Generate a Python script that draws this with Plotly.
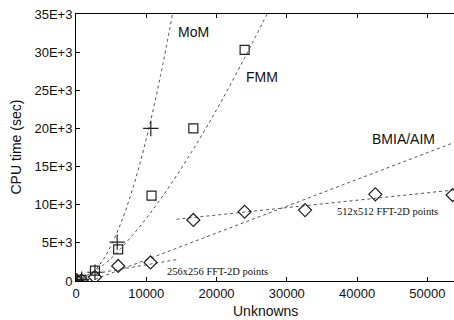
import plotly.graph_objects as go

# Measured points
mom_n = [120, 800, 2700, 5860, 10650]
mom_t = [50, 220, 1150, 5100, 20000]

fmm_n = [120, 800, 2700, 6000, 10750, 16700, 24000]
fmm_t = [30, 150, 1350, 4150, 11200, 20000, 30300]

aim_n = [120, 800, 2700, 6000, 10600, 16700, 24000, 32600, 42600, 53600]
aim_t = [20, 80, 520, 1970, 2430, 8000, 9080, 9300, 11360, 11270]

# Trend curves
mom_fit_n = [0, 2000, 4000, 6000, 8000, 10000, 12000, 13740]
mom_fit_t = [0, 750, 3000, 6700, 11900, 18600, 26800, 35000]

fmm_fit_n = [0, 4000, 8000, 12000, 16000, 20000, 24000, 27190]
fmm_fit_t = [0, 2170, 5950, 10700, 16240, 22440, 29260, 35000]

aim_fit_n = [2700, 53800]
aim_fit_t = [220, 18150]

fft256_fit_n = [2900, 14500]
fft256_fit_t = [1000, 2830]

fft512_fit_n = [14300, 53800]
fft512_fit_t = [8090, 11930]

y_ticks = [0, 5000, 10000, 15000, 20000, 25000, 30000, 35000]
y_tick_text = ["0", "5E+3", "10E+3", "15E+3", "20E+3", "25E+3", "30E+3", "35E+3"]
x_ticks = [0, 10000, 20000, 30000, 40000, 50000]
x_tick_text = ["0", "10000", "20000", "30000", "40000", "50000"]

line_style = dict(color="#555555", width=1, dash="dot")
mk_col = "#222222"

fig = go.Figure()
for xs, ys, shp in [(mom_fit_n, mom_fit_t, "spline"), (fmm_fit_n, fmm_fit_t, "spline"),
                    (aim_fit_n, aim_fit_t, "linear"), (fft256_fit_n, fft256_fit_t, "linear"),
                    (fft512_fit_n, fft512_fit_t, "linear")]:
    fig.add_trace(go.Scatter(x=xs, y=ys, mode="lines", line=dict(shape=shp, **line_style),
                             showlegend=False, hoverinfo="skip"))

fig.add_trace(go.Scatter(x=mom_n, y=mom_t, mode="markers", showlegend=False,
                         marker=dict(symbol="cross-thin-open", size=11, color=mk_col,
                                     line=dict(color=mk_col, width=1.2))))
fig.add_trace(go.Scatter(x=fmm_n, y=fmm_t, mode="markers", showlegend=False,
                         marker=dict(symbol="square-open", size=9, color=mk_col,
                                     line=dict(color=mk_col, width=1.2))))
fig.add_trace(go.Scatter(x=aim_n, y=aim_t, mode="markers", showlegend=False,
                         marker=dict(symbol="diamond-open", size=10, color=mk_col,
                                     line=dict(color=mk_col, width=1.2))))

sans = dict(family="Liberation Sans, Arial, sans-serif", size=14, color="#111111")
serif = dict(family="Liberation Serif, Times New Roman, serif", size=10.5, color="#111111")

annots = [
    ("MoM", 16700, 32650, sans),
    ("FMM", 26500, 26800, sans),
    ("BMIA/AIM", 46600, 18600, sans),
    ("512x512 FFT-2D points", 44400, 9050, serif),
    ("256x256 FFT-2D points", 20200, 1310, serif),
]
for txt, ax_, ay_, f in annots:
    fig.add_annotation(x=ax_, y=ay_, text=txt, showarrow=False, font=f,
                       xanchor="center", yanchor="middle")

# Axis titles
fig.add_annotation(xref="paper", yref="paper", x=0.5, y=0, yshift=-30, text="Unknowns",
                   showarrow=False, font=sans, xanchor="center", yanchor="middle")
fig.add_annotation(xref="paper", yref="paper", x=0, xshift=-61, y=0.5, text="CPU time (sec)",
                   textangle=-90, showarrow=False, font=sans, xanchor="center", yanchor="middle")

fig.update_layout(
    width=454, height=320,
    margin=dict(l=76, r=0, t=14, b=39, autoexpand=False),
    plot_bgcolor="white", paper_bgcolor="white",
    font=dict(family="Liberation Sans, Arial, sans-serif", size=13, color="#111111"),
)
fig.update_xaxes(range=[0, 53800], tickvals=x_ticks, ticktext=x_tick_text, ticks="inside",
                 ticklen=4, tickcolor="black", showline=True, linecolor="black", linewidth=1,
                 mirror="ticks", showgrid=False, zeroline=False, automargin=False,
                 ticklabeloverflow="allow", tickfont=dict(size=13))
fig.update_yaxes(range=[0, 35000], tickvals=y_ticks, ticktext=y_tick_text, ticks="inside",
                 ticklen=4, tickcolor="black", showline=True, linecolor="black", linewidth=1,
                 showgrid=False, zeroline=False, automargin=False,
                 ticklabeloverflow="allow", tickfont=dict(size=13))

fig.write_html(
    "out.html",
    config={"displayModeBar": False},
    post_script="document.body.style.margin='0';document.body.style.overflow='hidden';",
)
